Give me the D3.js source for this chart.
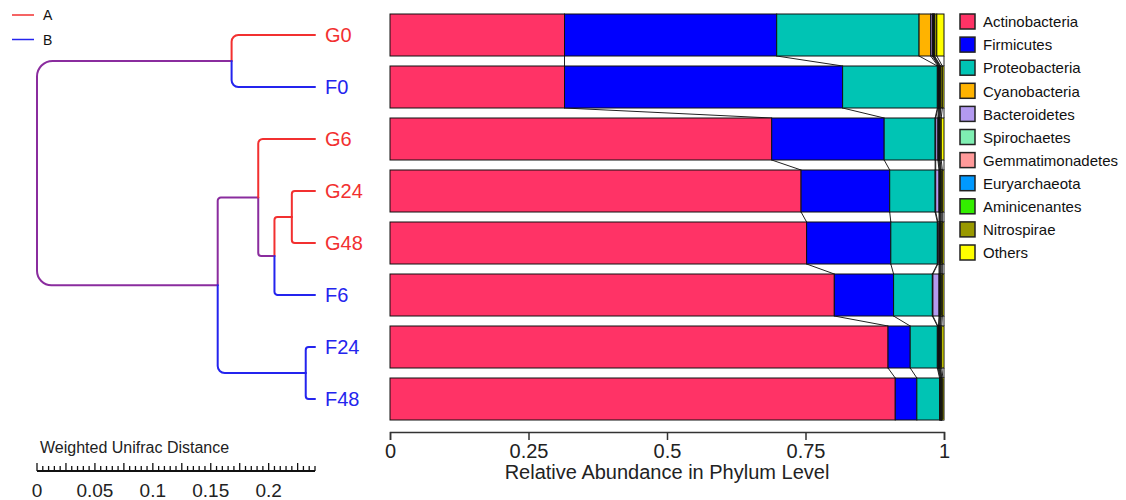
<!DOCTYPE html>
<html>
<head>
<meta charset="utf-8">
<script src="https://cdn.jsdelivr.net/npm/d3@7"></script>
<style>
  html, body { margin: 0; padding: 0; background: #fff; }
  svg { display: block; font-family: Arial, "Liberation Sans", sans-serif; }
</style>
</head>
<body>
<svg id="chart" width="1126" height="500"></svg>
<script>
// ---- data ----------------------------------------------------------------
const samples = ["G0", "F0", "G6", "G24", "G48", "F6", "F24", "F48"];
const sampleGroups = ["A", "B", "A", "A", "A", "B", "B", "B"];
const groupNames = ["A", "B"];

const phyla = ["Actinobacteria", "Firmicutes", "Proteobacteria", "Cyanobacteria",
  "Bacteroidetes", "Spirochaetes", "Gemmatimonadetes", "Euryarchaeota",
  "Aminicenantes", "Nitrospirae", "Others"];

// relative abundance per sample (same order as samples)
const actinobacteria   = [0.315, 0.315, 0.689, 0.742, 0.752, 0.802, 0.899, 0.912];
const firmicutes       = [0.383, 0.502, 0.203, 0.160, 0.152, 0.107, 0.040, 0.039];
const proteobacteria   = [0.257, 0.171, 0.092, 0.082, 0.084, 0.070, 0.049, 0.041];
const cyanobacteria    = [0.021, 0.001, 0.001, 0.001, 0.001, 0.001, 0.001, 0.001];
const bacteroidetes    = [0.003, 0.001, 0.004, 0.006, 0.002, 0.011, 0.001, 0.001];
const spirochaetes     = [0.001, 0.001, 0.001, 0.001, 0.001, 0.001, 0.001, 0.0005];
const gemmatimonadetes = [0.001, 0.001, 0.001, 0.001, 0.001, 0.001, 0.001, 0.0005];
const euryarchaeota    = [0.001, 0.001, 0.001, 0.001, 0.001, 0.001, 0.001, 0.0005];
const aminicenantes    = [0.001, 0.001, 0.001, 0.001, 0.001, 0.001, 0.001, 0.0005];
const nitrospirae      = [0.004, 0.003, 0.002, 0.002, 0.002, 0.002, 0.002, 0.002];
const others           = [0.013, 0.003, 0.005, 0.003, 0.003, 0.003, 0.004, 0.002];

const abundance = [actinobacteria, firmicutes, proteobacteria, cyanobacteria,
  bacteroidetes, spirochaetes, gemmatimonadetes, euryarchaeota,
  aminicenantes, nitrospirae, others];

const abundanceTicks = [0, 0.25, 0.5, 0.75, 1];
const distanceTicks = [0, 0.05, 0.1, 0.15, 0.2];

// clustering tree (weighted UniFrac), distance measured from the root
const treeIds     = ["root", "n0", "n1", "n2", "n3", "n4", "n5",
                     "G0", "F0", "G6", "G24", "G48", "F6", "F24", "F48"];
const treeParents = ["",     "root", "root", "n1", "n2", "n3", "n1",
                     "n0", "n0", "n2", "n4", "n4", "n3", "n5", "n5"];
const treeDepths  = [0, 0.168, 0.156, 0.191, 0.205, 0.220, 0.232,
                     0.24, 0.24, 0.24, 0.24, 0.24, 0.24, 0.24, 0.24];

// ---- styles --------------------------------------------------------------
const phylumColors = ["#FF3366", "#0000FF", "#00C4B4", "#FFB300", "#B39AF0",
  "#7FEFB2", "#FF9A9A", "#0099FF", "#33EE00", "#999900", "#FFFF00"];
const groupColors = { A: "#F23030", B: "#2424EE", AB: "#8A2C9E" };

const svg = d3.select("#chart");

// ---- stacked bars --------------------------------------------------------
const x = d3.scaleLinear().domain([0, 1]).range([390, 944]);
const y = d3.scaleBand().domain(samples).range([9, 425])
  .paddingInner(10 / 52).paddingOuter(5 / 52);

const cumulative = samples.map((s, i) => {
  let acc = 0;
  return abundance.map(arr => { const a = acc; acc += arr[i]; return [a, acc]; });
});

// connectors between consecutive bars at each segment boundary
const links = svg.append("g");
for (let i = 0; i < samples.length - 1; i++) {
  const y0 = y(samples[i]) + y.bandwidth();
  const y1 = y(samples[i + 1]);
  phyla.forEach((p, k) => {
    links.append("line")
      .attr("x1", x(cumulative[i][k][1])).attr("y1", y0)
      .attr("x2", x(cumulative[i + 1][k][1])).attr("y2", y1)
      .attr("stroke", "#222").attr("stroke-width", 1);
  });
}

const bars = svg.append("g");
samples.forEach((s, i) => {
  phyla.forEach((p, k) => {
    const [a, b] = cumulative[i][k];
    bars.append("rect")
      .attr("x", x(a)).attr("y", y(s))
      .attr("width", Math.max(0, x(b) - x(a))).attr("height", y.bandwidth())
      .attr("fill", phylumColors[k])
      .attr("stroke", "#111").attr("stroke-width", 1);
  });
});

// x axis
const xAxis = svg.append("g")
  .attr("transform", "translate(0,432)")
  .call(d3.axisBottom(x).tickValues(abundanceTicks).tickFormat(d => String(d))
    .tickSize(8).tickSizeOuter(8));
xAxis.select(".domain").attr("stroke", "#333").attr("stroke-width", 1.5);
xAxis.selectAll(".tick line").attr("stroke", "#333").attr("stroke-width", 1.5);
xAxis.selectAll(".tick text").attr("font-size", 20).attr("fill", "#222")
  .attr("font-family", "Arial, 'Liberation Sans', sans-serif").attr("dy", "0.76em");

svg.append("text")
  .attr("x", (x(0) + x(1)) / 2).attr("y", 479)
  .attr("text-anchor", "middle").attr("font-size", 20).attr("fill", "#222")
  .text("Relative Abundance in Phylum Level");

// ---- legend (phyla) ------------------------------------------------------
const legend = svg.append("g").attr("transform", "translate(960,14)");
phyla.forEach((p, k) => {
  const g = legend.append("g").attr("transform", `translate(0,${k * 23.1})`);
  g.append("rect").attr("width", 15).attr("height", 15)
    .attr("fill", phylumColors[k]).attr("stroke", "#222").attr("stroke-width", 1.5);
  g.append("text").attr("x", 23).attr("y", 8).attr("dy", "0.35em")
    .attr("font-size", 15).attr("fill", "#111").text(p);
});

// ---- dendrogram ----------------------------------------------------------
const dx = d3.scaleLinear().domain([0, 0.24]).range([37, 315]);

const root = d3.stratify()
  .id((d, i) => treeIds[i])
  .parentId((d, i) => treeParents[i] || null)(treeIds.map((id, i) => ({ id, depth: treeDepths[i] })));

// leaf positions follow the bars; internal nodes sit midway between children
root.eachAfter(n => {
  n.px = dx(n.data.depth);
  if (!n.children) {
    n.py = y(n.id) + y.bandwidth() / 2;
  } else {
    n.py = (n.children[0].py + n.children[1].py) / 2;
  }
  const groups = new Set(n.leaves().map(l => sampleGroups[samples.indexOf(l.id)]));
  n.color = groups.size > 1 ? groupColors.AB : groupColors[[...groups][0]];
});

const tree = svg.append("g").attr("fill", "none").attr("stroke-width", 2)
  .attr("stroke-linecap", "round");
root.each(n => {
  if (!n.children) return;
  n.children.forEach(c => {
    const len = c.px - n.px;
    const dy = c.py - n.py;
    const r = Math.max(3, Math.min(16, len * 0.08, Math.abs(dy) / 2));
    const s = dy < 0 ? -1 : 1;
    const sweep = dy < 0 ? 1 : 0;
    const path = `M${n.px},${n.py} L${n.px},${c.py - s * r} ` +
      `A${r},${r} 0 0 ${sweep} ${n.px + r},${c.py} L${c.px},${c.py}`;
    tree.append("path").attr("d", path).attr("stroke", c.color);
  });
});

// leaf labels
root.leaves().forEach(l => {
  const grp = sampleGroups[samples.indexOf(l.id)];
  svg.append("text")
    .attr("x", l.px + 10).attr("y", l.py).attr("dy", "0.36em")
    .attr("font-size", 20).attr("fill", groupColors[grp]).text(l.id);
});

// group key
groupNames.forEach((g, i) => {
  const yy = 15 + i * 24.5;
  svg.append("line").attr("x1", 12).attr("x2", 34).attr("y1", yy).attr("y2", yy)
    .attr("stroke", groupColors[g]).attr("stroke-width", 1.5);
  svg.append("text").attr("x", 43).attr("y", yy).attr("dy", "0.36em")
    .attr("font-size", 14).attr("fill", "#111").text(g);
});

// distance scale bar
svg.append("text").attr("x", 40).attr("y", 453)
  .attr("font-size", 16).attr("fill", "#222").text("Weighted Unifrac Distance");
const ruler = svg.append("g").attr("stroke", "#111");
ruler.append("line").attr("x1", dx(0)).attr("x2", dx(0.24))
  .attr("y1", 471).attr("y2", 471).attr("stroke-width", 2);
d3.range(0, 48 + 1).forEach(k => {
  const v = k * 0.005;
  const major = k % 5 === 0;
  ruler.append("line").attr("x1", dx(v)).attr("x2", dx(v))
    .attr("y1", 471).attr("y2", major ? 463 : 466).attr("stroke-width", 1.3);
});
distanceTicks.forEach(v => {
  svg.append("text").attr("x", dx(v)).attr("y", 497)
    .attr("text-anchor", "middle").attr("font-size", 19).attr("fill", "#222")
    .text(String(v));
});
</script>
</body>
</html>
